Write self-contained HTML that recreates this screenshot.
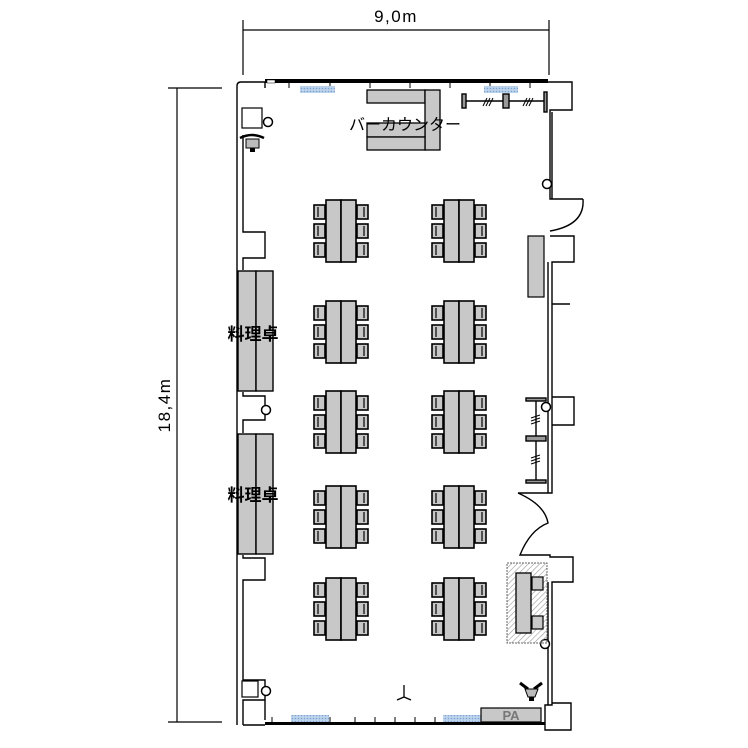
<!DOCTYPE html>
<html><head><meta charset="utf-8"><style>html,body{margin:0;padding:0;background:#fff}svg{display:block}</style></head>
<body>
<svg width="748" height="748" viewBox="0 0 748 748" xmlns="http://www.w3.org/2000/svg" font-family="Liberation Sans, Noto Sans CJK JP, sans-serif">
<defs>
<pattern id="h" width="4" height="4" patternUnits="userSpaceOnUse" patternTransform="rotate(45)"><line x1="0" y1="0" x2="0" y2="4" stroke="#999" stroke-width="1.2"/></pattern>
<pattern id="dots" width="3" height="3" patternUnits="userSpaceOnUse"><rect width="3" height="3" fill="#bcd4ee"/><circle cx="1.5" cy="1.5" r="0.8" fill="#7fa3cc"/></pattern>
<g id="tbl">
 <rect x="-15" y="0" width="15" height="62" fill="#c8c8c8" stroke="#000" stroke-width="1.6"/>
 <rect x="0" y="0" width="15" height="62" fill="#c8c8c8" stroke="#000" stroke-width="1.6"/>
 <g fill="#c8c8c8" stroke="#000" stroke-width="1.6">
  <rect x="-27" y="5" width="11" height="14"/><rect x="-27" y="24" width="11" height="14"/><rect x="-27" y="43" width="11" height="14"/>
  <rect x="16" y="5" width="11" height="14"/><rect x="16" y="24" width="11" height="14"/><rect x="16" y="43" width="11" height="14"/>
 </g>
 <g stroke="#000" stroke-width="1.2">
  <line x1="-23" y1="7" x2="-23" y2="17"/><line x1="-23" y1="26" x2="-23" y2="36"/><line x1="-23" y1="45" x2="-23" y2="55"/>
  <line x1="23" y1="7" x2="23" y2="17"/><line x1="23" y1="26" x2="23" y2="36"/><line x1="23" y1="45" x2="23" y2="55"/>
 </g>
</g>
</defs>
<!-- dimensions -->
<g stroke="#000" stroke-width="1.2" fill="none">
 <line x1="243" y1="20" x2="243" y2="75"/><line x1="549" y1="20" x2="549" y2="75"/>
 <line x1="243" y1="30" x2="549" y2="30"/>
 <line x1="168" y1="88" x2="222" y2="88"/><line x1="168" y1="722" x2="222" y2="722"/>
 <line x1="177" y1="88" x2="177" y2="722"/>
</g>
<text x="396" y="22" font-size="17" text-anchor="middle" letter-spacing="1.5">9,0m</text>
<text x="170" y="405" font-size="17" text-anchor="middle" letter-spacing="1.5" transform="rotate(-90 170 405)">18,4m</text>

<!-- walls -->
<g stroke="#000" stroke-width="1.4" fill="none">
 <path d="M237 725 V86 Q237 82 241 82 H265 V88"/>
 <path d="M243 135 V232 H265 V258 H243 V270"/>
 <path d="M243 392 V396 H265 V420 H243 V433"/>
 <path d="M243 555 V558 H265 V580 H243 V680 H265 V700 H243 V725"/>
 <path d="M265 700 V720"/>
 <path d="M548 82 H572 V110 H550 V199 H583"/>
 <path d="M552 112 V199"/>
 <path d="M583 199 Q585 225 550 231"/>
 <path d="M550 236 H574 V262 H552 V493 H518"/>
 <path d="M548 262 V493"/>
 <path d="M552 304 H570"/>
 <path d="M552 397 H574 V425 H552"/>
 <path d="M518 493 Q545 505 548 523 Q530 530 520 555 H550 V557 H573 V582 H552 V705 H545 V730 H571 V703 H552"/>
 <path d="M548 582 V705"/>
 <path d="M243 725 H265"/>
</g>
<!-- top wall -->
<rect x="265" y="79" width="283" height="4" fill="#000"/>
<rect x="267" y="80" width="8" height="3" fill="#fff" stroke="#000" stroke-width="0.5"/>
<g stroke="#000" stroke-width="1">
 <line x1="289" y1="83" x2="289" y2="88"/><line x1="330" y1="83" x2="330" y2="88"/><line x1="370" y1="83" x2="370" y2="88"/><line x1="410" y1="83" x2="410" y2="88"/><line x1="450" y1="83" x2="450" y2="88"/><line x1="490" y1="83" x2="490" y2="88"/><line x1="530" y1="83" x2="530" y2="88"/>
</g>
<rect x="300" y="86" width="35" height="7" fill="url(#dots)"/>
<rect x="484" y="86" width="34" height="7" fill="url(#dots)"/>
<!-- bottom wall -->
<rect x="265" y="722" width="280" height="3" fill="#000"/>
<g stroke="#000" stroke-width="1">
 <line x1="272" y1="717" x2="272" y2="722"/><line x1="330" y1="717" x2="330" y2="722"/><line x1="355" y1="717" x2="355" y2="722"/><line x1="375" y1="717" x2="375" y2="722"/><line x1="395" y1="717" x2="395" y2="722"/><line x1="415" y1="717" x2="415" y2="722"/><line x1="435" y1="717" x2="435" y2="722"/>
</g>
<rect x="291" y="715" width="38" height="7" fill="url(#dots)"/>
<rect x="443" y="715" width="38" height="7" fill="url(#dots)"/>
<rect x="481" y="708" width="60" height="14" fill="#c8c8c8" stroke="#000" stroke-width="1.2"/>
<text x="511" y="720" font-size="13" text-anchor="middle" fill="#777" font-weight="bold">PA</text>

<!-- left top features -->
<rect x="242" y="108" width="20" height="20" fill="#fff" stroke="#000" stroke-width="1.2"/>
<path d="M240 138 Q252 132 264 138" stroke="#000" stroke-width="2.5" fill="none"/>
<rect x="246" y="139" width="13" height="9" fill="#bbb" stroke="#000"/>
<rect x="250" y="148" width="5" height="4" fill="#000"/>
<circle cx="268" cy="122" r="4.5" fill="#fff" stroke="#000" stroke-width="1.5"/>
<circle cx="266" cy="410" r="4.5" fill="#fff" stroke="#000" stroke-width="1.5"/>
<circle cx="266" cy="691" r="4.5" fill="#fff" stroke="#000" stroke-width="1.5"/>
<circle cx="547" cy="184" r="4.5" fill="#fff" stroke="#000" stroke-width="1.5"/>
<circle cx="546" cy="407" r="4.5" fill="#fff" stroke="#000" stroke-width="1.5"/>
<circle cx="545" cy="644" r="4.5" fill="#fff" stroke="#000" stroke-width="1.5"/>
<rect x="242" y="681" width="16" height="16" fill="#fff" stroke="#000" stroke-width="1.2"/>

<!-- bar counter -->
<g fill="#c8c8c8" stroke="#000" stroke-width="1.3">
 <rect x="367" y="90" width="58" height="13"/>
 <rect x="425" y="90" width="15" height="60"/>
 <rect x="367" y="123" width="58" height="14"/>
 <rect x="367" y="137" width="58" height="13"/>
</g>
<text x="405" y="130" font-size="16" text-anchor="middle">バーカウンター</text>

<!-- top right rack -->
<g stroke="#000" stroke-width="1.4" fill="#999">
 <line x1="465" y1="101" x2="545" y2="101"/>
 <rect x="462" y="94" width="4" height="14"/><rect x="503" y="94" width="6" height="14"/><rect x="544" y="92" width="3" height="20"/>
 <path d="M483 106 l4 -8 M486 106 l4 -8 M489 106 l4 -8 M523 106 l4 -8 M526 106 l4 -8 M529 106 l4 -8" fill="none" stroke-width="1"/>
</g>
<!-- right rack -->
<g stroke="#000" stroke-width="1.4" fill="#999">
 <line x1="536" y1="400" x2="536" y2="482"/>
 <rect x="526" y="398" width="20" height="3"/><rect x="526" y="436" width="20" height="5"/><rect x="526" y="480" width="20" height="3"/>
 <path d="M531 418 l9 -3 M531 421 l9 -3 M531 424 l9 -3 M531 458 l9 -3 M531 461 l9 -3 M531 464 l9 -3" fill="none" stroke-width="1"/>
</g>
<rect x="528" y="236" width="16" height="61" fill="#c8c8c8" stroke="#000" stroke-width="1.2"/>

<!-- cooking tables -->
<g fill="#c8c8c8" stroke="#000" stroke-width="1.4">
 <rect x="238" y="271" width="18" height="120"/><rect x="256" y="271" width="17" height="120"/>
 <rect x="238" y="434" width="18" height="120"/><rect x="256" y="434" width="17" height="120"/>
</g>
<text x="253" y="340" font-size="17" text-anchor="middle" font-weight="bold">料理卓</text>
<text x="253" y="501" font-size="17" text-anchor="middle" font-weight="bold">料理卓</text>

<!-- tables -->
<use href="#tbl" x="341" y="200"/><use href="#tbl" x="459" y="200"/>
<use href="#tbl" x="341" y="301"/><use href="#tbl" x="459" y="301"/>
<use href="#tbl" x="341" y="391"/><use href="#tbl" x="459" y="391"/>
<use href="#tbl" x="341" y="486"/><use href="#tbl" x="459" y="486"/>
<use href="#tbl" x="341" y="578"/><use href="#tbl" x="459" y="578"/>

<!-- hatched stage -->
<rect x="507" y="563" width="40" height="80" fill="url(#h)" stroke="#666" stroke-width="1" stroke-dasharray="2 1"/>
<rect x="516" y="573" width="15" height="60" fill="#c8c8c8" stroke="#000" stroke-width="1.3"/>
<rect x="532" y="577" width="11" height="13" fill="#c8c8c8" stroke="#000" stroke-width="1.2"/>
<rect x="532" y="616" width="11" height="13" fill="#c8c8c8" stroke="#000" stroke-width="1.2"/>

<!-- projector / mic -->
<path d="M520 683 L528 689 M542 683 L534 689" stroke="#000" stroke-width="3"/>
<path d="M525 689 H538 L535 697 H528 Z" fill="#bbb" stroke="#000"/>
<rect x="529" y="697" width="5" height="4" fill="#000"/>
<path d="M404 685 V697 M397 700 L404 697 L411 700" stroke="#000" stroke-width="1.3" fill="none"/>
</svg>
</body></html>
